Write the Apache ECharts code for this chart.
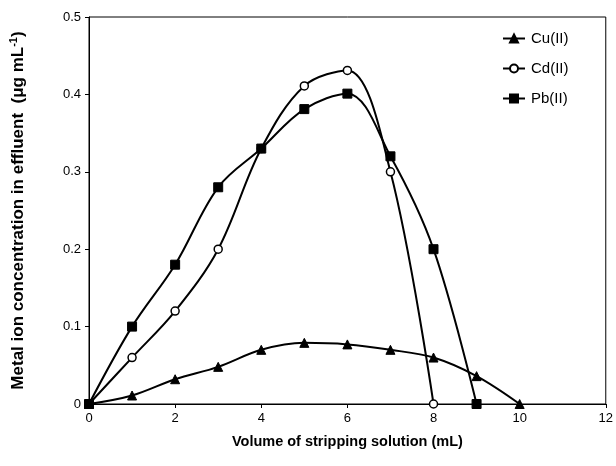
<!DOCTYPE html>
<html>
<head>
<meta charset="utf-8">
<script src="https://cdn.jsdelivr.net/npm/echarts@6/dist/echarts.min.js"></script>
<style>html,body{margin:0;padding:0;background:#fff;}#c{width:616px;height:466px;}</style>
</head>
<body>
<div id="c"></div>
<script>
const xCu = [0,1,2,3,4,5,6,7,8,9,10];
const cuValues = [0,0.011,0.032,0.048,0.070,0.079,0.077,0.070,0.060,0.036,0];
const xCd = [0,1,2,3,4,5,6,7,8];
const cdValues = [0,0.060,0.120,0.200,0.330,0.411,0.431,0.300,0];
const xPb = [0,1,2,3,4,5,6,7,8,9];
const pbValues = [0,0.100,0.180,0.280,0.330,0.381,0.401,0.320,0.200,0];
const seriesNames = ['Cu(II)','Cd(II)','Pb(II)'];
const xTicks = [0,2,4,6,8,10,12];
const yTicks = [0,0.1,0.2,0.3,0.4,0.5];

const font = 'Liberation Sans, Arial, sans-serif';
function pairs(xs, ys){ return xs.map((x,i)=>[x, ys[i]]); }

const chart = echarts.init(document.getElementById('c'), null, {renderer:'canvas'});
const lineStyle = {color:'#000', width:2};
chart.setOption({
  animation:false,
  backgroundColor:'#fff',
  grid:{left:89, top:17, right:9, bottom:62, show:true, borderColor:'#000', borderWidth:1, backgroundColor:'transparent'},
  legend:{
    orient:'vertical', left:497, top:26, itemGap:15, itemWidth:22, itemHeight:10,
    textStyle:{fontFamily:font, fontSize:15, color:'#000', padding:[0,0,0,1]},
    data:seriesNames
  },
  xAxis:{
    type:'value', min:xTicks[0], max:xTicks[xTicks.length-1], interval:2,
    axisLine:{lineStyle:{color:'#000', width:1}},
    axisTick:{show:true, inside:false, length:4, lineStyle:{color:'#000'}},
    splitLine:{show:false},
    axisLabel:{fontFamily:font, fontSize:13, color:'#000', margin:8},
    name:'Volume of stripping solution (mL)', nameLocation:'middle', nameGap:30,
    nameTextStyle:{fontFamily:font, fontSize:14.5, fontWeight:'bold', color:'#000'}
  },
  yAxis:{
    type:'value', min:yTicks[0], max:yTicks[yTicks.length-1], interval:0.1,
    axisLine:{show:true, lineStyle:{color:'#000', width:1}},
    axisTick:{show:true, inside:false, length:4, lineStyle:{color:'#000'}},
    splitLine:{show:false},
    axisLabel:{fontFamily:font, fontSize:13, color:'#000', margin:8,
      formatter:v=> v===0 ? '0' : v.toFixed(1)},
    name:'{b|Metal ion concentration in effluent  (μg mL}{s|-1}{b|)}',
    nameLocation:'middle', nameGap:61,
    nameTextStyle:{rich:{
      b:{fontFamily:font, fontSize:17, fontWeight:'bold', color:'#000'},
      s:{fontFamily:font, fontSize:11, fontWeight:'bold', color:'#000', verticalAlign:'top', padding:[0,0,9,0]}
    }}
  },
  series:[
    {name:seriesNames[0], type:'line', data:pairs(xCu,cuValues), smooth:0.35,
     symbol:'triangle', symbolSize:9, lineStyle:lineStyle,
     itemStyle:{color:'#000', borderColor:'#000', borderWidth:1}, z:3},
    {name:seriesNames[1], type:'line', data:pairs(xCd,cdValues), smooth:0.35,
     symbol:'circle', symbolSize:8, lineStyle:lineStyle,
     itemStyle:{color:'#fff', borderColor:'#000', borderWidth:1.5}, z:4},
    {name:seriesNames[2], type:'line', data:pairs(xPb,pbValues), smooth:0.35,
     symbol:'rect', symbolSize:9, lineStyle:lineStyle,
     itemStyle:{color:'#000', borderColor:'#000', borderWidth:1}, z:5}
  ]
});
</script>
</body>
</html>
